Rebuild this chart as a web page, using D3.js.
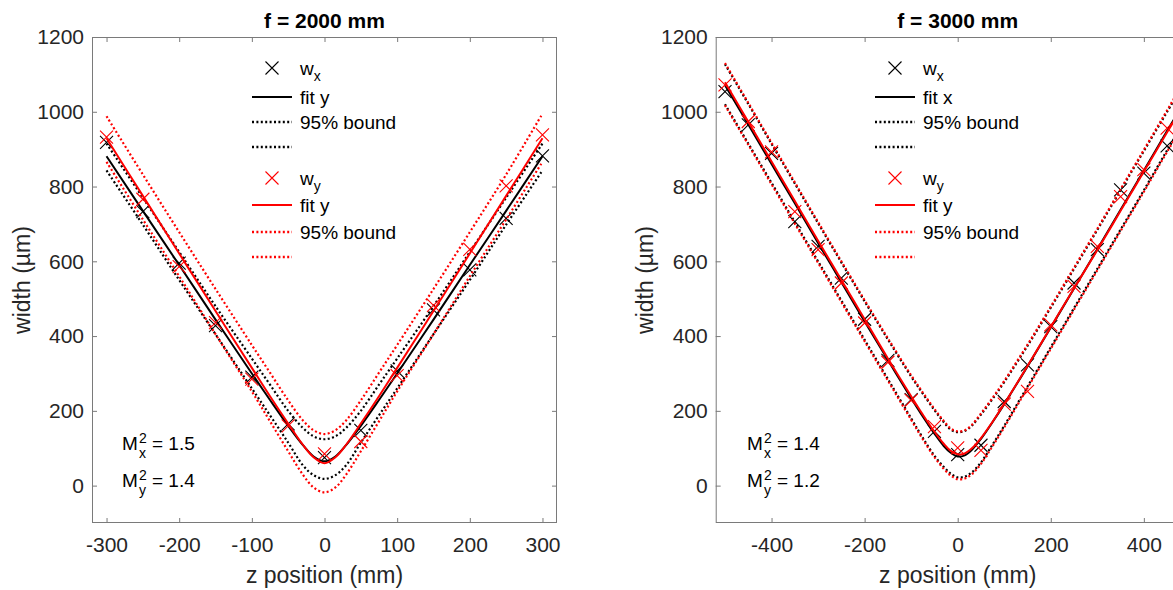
<!DOCTYPE html>
<html><head><meta charset="utf-8">
<script src="https://cdn.jsdelivr.net/npm/d3@7"></script>
<style>
body{margin:0;background:#fff;}
svg{display:block;font-family:"Liberation Sans",Arial,Helvetica,sans-serif;}
</style>
</head><body>
<svg id="c" width="1173" height="590"></svg>
<script>
// ---------- Data: left panel (f = 2000 mm) ----------
const titleL = "f = 2000 mm";
const zMeasL = [-300,-250,-200,-150,-100,-50,0,50,100,150,200,250,300];
const wxMeasL = [918,733,595,428,290,165,75,148,307,470,577,715,882];
const wyMeasL = [932,766,586,436,285,160,85,118,294,482,632,802,938];
const zFitL = [-300,-250,-200,-150,-100,-75,-50,-30,-15,0,15,30,50,75,100,150,200,250,300];
const fitXL   = [881,735,590,444,300,229,160,109,78,65,78,109,160,229,300,444,590,735,881];
const fitXUpL = [915,770,625,480,340,270,200,155,132,124,132,155,200,270,340,480,625,770,915];
const fitXLoL = [843,698,550,405,260,188,115,55,28,18,28,55,115,188,260,405,550,698,843];
const fitYL   = [929,775,621,467,315,239,166,110,76,60,76,110,166,239,315,467,621,775,929];
const fitYUpL = [988,832,678,526,376,302,228,175,148,138,148,175,228,302,376,526,678,832,995];
const fitYLoL = [866,712,560,405,252,172,92,30,-5,-18,-5,30,92,172,252,405,560,712,866];
const xTicksL = [-300,-200,-100,0,100,200,300];
const legendL = ["w|x","fit y","95% bound","","w|y","fit y","95% bound",""];
const m2L = ["1.5","1.4"];

// ---------- Data: right panel (f = 3000 mm) ----------
const titleR = "f = 3000 mm";
const zMeasR = [-500,-450,-400,-350,-300,-250,-200,-150,-100,-50,0,50,100,150,200,250,300,350,400,450];
const wxMeasR = [1054,965,889,706,640,555,445,335,230,145,83,108,225,323,425,542,631,791,836,909];
const wyMeasR = [1072,974,893,733,631,542,435,330,228,158,101,94,218,252,430,533,640,773,845,956];
const zFitR = [-500,-450,-400,-350,-300,-250,-200,-150,-100,-75,-50,-30,-15,0,15,30,50,75,100,150,200,250,300,350,400,450,500];
const fitXR   = [1071,966,860,755,649,544,439,336,234,185,139,106,88,78,81,95,125,170,218,319,423,527,632,738,843,949,1054];
const fitXUpR = [1127,1021,914,808,702,597,493,391,292,246,202,170,150,143,146,160,190,232,277,374,476,580,684,790,895,1000,1106];
const fitXLoR = [1020,915,810,705,600,495,390,285,180,128,80,50,32,22,24,35,62,110,160,265,370,475,580,685,790,897,1000];
const fitYR   = [1079,973,867,761,655,550,445,340,239,190,144,112,93,84,86,99,127,171,219,320,424,528,630,735,840,945,1050];
const fitYUpR = [1130,1024,917,811,705,600,496,394,295,249,205,173,153,145,148,162,193,235,280,377,479,583,687,793,898,1004,1110];
const fitYLoR = [1017,912,806,701,596,491,386,281,176,124,76,45,27,17,19,30,58,106,156,261,366,471,576,681,786,893,996];
const xTicksR = [-400,-200,0,200,400];
const legendR = ["w|x","fit x","95% bound","","w|y","fit y","95% bound",""];
const m2R = ["1.4","1.2"];

// ---------- Shared ----------
const yTicks = [0,200,400,600,800,1000,1200];
const yDomain = [-100,1200];
const xLabel = "z position (mm)";
const yLabel = "width (µm)";
const colors = ["#000000","#ff0000"];

const svg = d3.select("#c");
svg.append("rect").attr("width",1173).attr("height",590).attr("fill","#fff");

const TOP = 37, BOTTOM = 523;
const axisColor = "#262626";
const boxColor = "#7a7a7a";
const dotDash = "2,2.4";

function drawPanel(o){
  const x = d3.scaleLinear().domain(o.xDomain).range(o.xRange);
  const y = d3.scaleLinear().domain(yDomain).range([BOTTOM, TOP]);
  const x0 = o.xRange[0], x1 = o.xRange[1];
  const g = svg.append("g");

  const clipId = "clip" + o.id;
  svg.append("clipPath").attr("id", clipId).append("rect")
    .attr("x", x0).attr("y", TOP).attr("width", x1 - x0).attr("height", BOTTOM - TOP);

  const fmt = d => String(d);
  const ax = (gen, tr) => {
    const a = g.append("g").attr("transform", tr).call(gen);
    a.select(".domain").remove();
    a.selectAll(".tick line").attr("stroke", boxColor);
    a.selectAll("text").attr("fill", axisColor).attr("font-size", 21).attr("font-family", "Liberation Sans, Arial, sans-serif");
    return a;
  };
  ax(d3.axisBottom(x).tickValues(o.xTicks).tickSize(-5).tickPadding(14).tickFormat(fmt), `translate(0,${BOTTOM})`);
  ax(d3.axisTop(x).tickValues(o.xTicks).tickSize(-5).tickFormat(""), `translate(0,${TOP})`);
  ax(d3.axisLeft(y).tickValues(yTicks).tickSize(-5).tickPadding(8).tickFormat(fmt), `translate(${x0},0)`);
  ax(d3.axisRight(y).tickValues(yTicks).tickSize(-5).tickFormat(""), `translate(${x1},0)`);

  g.append("rect").attr("x", x0 + 0.5).attr("y", TOP + 0.5)
    .attr("width", x1 - x0 - 1).attr("height", BOTTOM - TOP - 1)
    .attr("fill", "none").attr("stroke", boxColor).attr("stroke-width", 1);

  const cx = x(0);
  g.append("text").attr("x", cx).attr("y", 28)
    .attr("text-anchor", "middle").attr("font-size", 21).attr("font-weight", "bold").attr("fill", "#000").text(o.title);
  g.append("text").attr("x", cx).attr("y", 583).attr("text-anchor", "middle")
    .attr("font-size", 23).attr("fill", axisColor).text(xLabel);
  g.append("text").attr("transform", `translate(${o.yLabelX},${(TOP + BOTTOM) / 2}) rotate(-90)`)
    .attr("text-anchor", "middle").attr("font-size", 23).attr("fill", axisColor).text(yLabel);

  const plot = g.append("g").attr("clip-path", `url(#${clipId})`);
  const line = d3.line().x(d => x(d[0])).y(d => y(d[1])).curve(d3.curveCatmullRom.alpha(0.5));
  const series = [
    {color: colors[0], meas: o.wx, fit: o.fx, up: o.fxUp, lo: o.fxLo},
    {color: colors[1], meas: o.wy, fit: o.fy, up: o.fyUp, lo: o.fyLo}
  ];
  const xMark = (px, py, r) => `M${px-r},${py-r}L${px+r},${py+r}M${px-r},${py+r}L${px+r},${py-r}`;
  series.forEach(s => {
    plot.append("g").selectAll("path").data(d3.zip(o.zMeas, s.meas)).join("path")
      .attr("d", d => xMark(x(d[0]), y(d[1]), 6.5))
      .attr("stroke", s.color).attr("stroke-width", 1.1).attr("fill", "none");
    plot.append("path").datum(d3.zip(o.zFit, s.fit)).attr("d", line)
      .attr("stroke", s.color).attr("stroke-width", 2).attr("fill", "none");
    [s.up, s.lo].forEach(b => plot.append("path").datum(d3.zip(o.zFit, b)).attr("d", line)
      .attr("stroke", s.color).attr("stroke-width", 2.2).attr("stroke-dasharray", dotDash).attr("fill", "none"));
  });

  const rowY = [68, 97, 122, 147, 178, 205, 232, 257];
  const lx0 = o.legX, lx1 = o.legX + 40, tx = o.legX + 48;
  const lg = g.append("g");
  o.legend.forEach((lab, i) => {
    const col = colors[i < 4 ? 0 : 1];
    const ry = rowY[i];
    const kind = i % 4;
    if (kind === 0) {
      lg.append("path").attr("d", xMark((lx0 + lx1) / 2, ry, 6.5)).attr("stroke", col).attr("stroke-width", 1.1).attr("fill", "none");
    } else {
      lg.append("line").attr("x1", lx0).attr("x2", lx1).attr("y1", ry).attr("y2", ry)
        .attr("stroke", col).attr("stroke-width", kind === 1 ? 2.2 : 2.4)
        .attr("stroke-dasharray", kind === 1 ? null : dotDash);
    }
    if (lab) {
      const t = lg.append("text").attr("x", tx).attr("y", ry).attr("dy", "0.35em")
        .attr("font-size", 19).attr("fill", "#000");
      if (lab.includes("|")) {
        const [a, b] = lab.split("|");
        t.append("tspan").text(a);
        t.append("tspan").attr("font-size", 14).attr("dy", 6).text(b);
      } else t.text(lab);
    }
  });

  const subs = ["x", "y"];
  [450, 487].forEach((by, i) => {
    const mx = o.mX;
    g.append("text").attr("x", mx).attr("y", by).attr("font-size", 19).attr("fill", "#000").text("M");
    g.append("text").attr("x", mx + 17).attr("y", by - 7).attr("font-size", 14).attr("fill", "#000").text("2");
    g.append("text").attr("x", mx + 17).attr("y", by + 8).attr("font-size", 14).attr("fill", "#000").text(subs[i]);
    g.append("text").attr("x", mx + 30).attr("y", by).attr("font-size", 19).attr("fill", "#000").text("= " + o.m2[i]);
  });
}

drawPanel({
  id: "L", title: titleL, xDomain: [-320, 320], xRange: [92, 557], xTicks: xTicksL,
  zMeas: zMeasL, wx: wxMeasL, wy: wyMeasL, zFit: zFitL,
  fx: fitXL, fxUp: fitXUpL, fxLo: fitXLoL, fy: fitYL, fyUp: fitYUpL, fyLo: fitYLoL,
  legend: legendL, legX: 252, m2: m2L, mX: 122, yLabelX: 30
});
drawPanel({
  id: "R", title: titleR, xDomain: [-520, 520], xRange: [715.7, 1199.7], xTicks: xTicksR,
  zMeas: zMeasR, wx: wxMeasR, wy: wyMeasR, zFit: zFitR,
  fx: fitXR, fxUp: fitXUpR, fxLo: fitXLoR, fy: fitYR, fyUp: fitYUpR, fyLo: fitYLoR,
  legend: legendR, legX: 875, m2: m2R, mX: 747, yLabelX: 653
});
</script>
</body></html>
